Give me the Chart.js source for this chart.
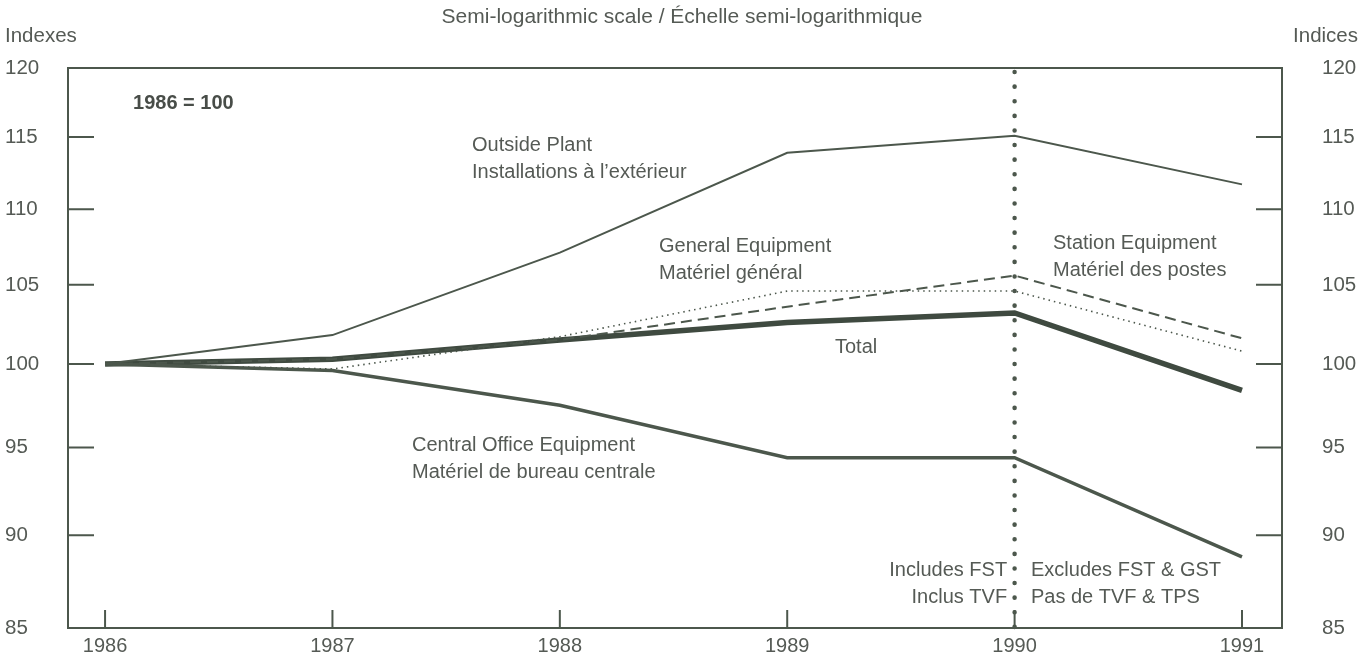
<!DOCTYPE html>
<html>
<head>
<meta charset="utf-8">
<script src="https://cdn.jsdelivr.net/npm/chart.js@4.4.0/dist/chart.umd.min.js"></script>
<style>
  html, body { margin: 0; padding: 0; background: #fff; overflow: hidden; }
  #wrap { width: 1364px; height: 665px; }
</style>
</head>
<body>
<div id="wrap"><canvas id="chart"></canvas></div>
<script>
// data (1986 = 100)
const years = [1986, 1987, 1988, 1989, 1990, 1991];
const outsidePlant = [100, 101.8, 107.1, 113.9, 115.1, 111.7];
const totalIdx = [100, 100.3, 101.5, 102.6, 103.2, 98.4];
const centralOffice = [100, 99.6, 97.5, 94.4, 94.4, 88.8];
const generalEquip = [100, 99.7, 101.7, 104.6, 104.6, 100.8];
const stationEquip = [100, 100.3, 101.5, 103.6, 105.6, 101.6];
const yTicks = [85, 90, 95, 100, 105, 110, 115, 120];

const ink = '#4c574c';
const txt = '#555a55';
const font = '"Liberation Sans", Arial, sans-serif';

const pts = arr => arr.map((v, i) => ({ x: years[i], y: v }));

// labels written inside the plot, placed by data value
const notes = [
  { x: 1986.123, y: 117.4, lines: ['1986 = 100'], bold: true },
  { x: 1987.614, y: 114.4, lines: ['Outside Plant', 'Installations à l\u2019extérieur'] },
  { x: 1988.436, y: 107.5, lines: ['General Equipment', 'Matériel général'] },
  { x: 1990.169, y: 107.7, lines: ['Station Equipment', 'Matériel des postes'] },
  { x: 1989.21, y: 101.0, lines: ['Total'] },
  { x: 1987.35, y: 95.1, lines: ['Central Office Equipment', 'Matériel de bureau centrale'] },
  { x: 1989.967, y: 88.05, lines: ['Includes FST', 'Inclus TVF'], align: 'right' },
  { x: 1990.072, y: 88.05, lines: ['Excludes FST & GST', 'Pas de TVF & TPS'] }
];

const decor = {
  id: 'decor',
  beforeDatasetsDraw(chart) {
    const { ctx, chartArea: a, scales } = chart;
    ctx.save();
    // frame
    ctx.strokeStyle = ink;
    ctx.lineWidth = 2;
    ctx.strokeRect(a.left, a.top, a.right - a.left, a.bottom - a.top);
    // inner ticks
    yTicks.forEach(v => {
      const y = scales.y.getPixelForValue(v);
      ctx.beginPath();
      ctx.moveTo(a.left, y); ctx.lineTo(a.left + 26, y);
      ctx.moveTo(a.right - 26, y); ctx.lineTo(a.right, y);
      ctx.stroke();
    });
    years.forEach(v => {
      const x = scales.x.getPixelForValue(v);
      ctx.beginPath();
      ctx.moveTo(x, a.bottom); ctx.lineTo(x, a.bottom - 18);
      ctx.stroke();
    });
    // tax break marker at 1990
    const bx = scales.x.getPixelForValue(1990);
    ctx.setLineDash([0.1, 14.5]);
    ctx.lineCap = 'round';
    ctx.lineWidth = 4.5;
    ctx.beginPath();
    ctx.moveTo(bx, a.top + 4); ctx.lineTo(bx, a.bottom);
    ctx.stroke();
    ctx.setLineDash([]);
    ctx.lineCap = 'butt';

    // texts
    ctx.fillStyle = txt;
    ctx.textBaseline = 'middle';
    ctx.font = '21px ' + font;
    ctx.textAlign = 'center';
    ctx.fillText('Semi-logarithmic scale / Échelle semi-logarithmique', 682, 17);
    ctx.font = '20.5px ' + font;
    ctx.textAlign = 'left';
    ctx.fillText('Indexes', 5, 36);
    ctx.textAlign = 'right';
    ctx.fillText('Indices', 1358, 36);

    notes.forEach(n => {
      ctx.font = (n.bold ? 'bold ' : '') + '20px ' + font;
      ctx.fillStyle = n.bold ? '#484d48' : txt;
      ctx.textAlign = n.align || 'left';
      const x = scales.x.getPixelForValue(n.x);
      const y = scales.y.getPixelForValue(n.y);
      n.lines.forEach((l, i) => ctx.fillText(l, x, y + i * 27));
    });
    ctx.restore();
  }
};

new Chart(document.getElementById('chart'), {
  type: 'line',
  data: {
    datasets: [
      { label: 'Outside Plant', data: pts(outsidePlant), borderColor: ink, borderWidth: 2 },
      { label: 'General Equipment', data: pts(generalEquip), borderColor: ink, borderWidth: 1.6, borderDash: [1.5, 4] },
      { label: 'Station Equipment', data: pts(stationEquip), borderColor: ink, borderWidth: 2, borderDash: [11, 6] },
      { label: 'Central Office Equipment', data: pts(centralOffice), borderColor: ink, borderWidth: 3.5 },
      { label: 'Total', data: pts(totalIdx), borderColor: '#3f4a40', borderWidth: 5.5 }
    ]
  },
  options: {
    responsive: true,
    maintainAspectRatio: false,
    animation: false,
    layout: { padding: { left: 5, right: 0, top: 68, bottom: 0 } },
    elements: { point: { radius: 0 }, line: { tension: 0, borderCapStyle: 'butt', borderJoinStyle: 'miter' } },
    plugins: { legend: { display: false }, tooltip: { enabled: false } },
    scales: {
      x: {
        type: 'linear',
        min: 1985.837,
        max: 1991.176,
        afterBuildTicks: s => { s.ticks = years.map(v => ({ value: v })); },
        afterFit: s => { s.height = 37; },
        grid: { display: false, drawTicks: false },
        border: { display: false },
        ticks: { color: txt, font: { family: font, size: 20 }, padding: 6, maxRotation: 0, callback: v => String(v) }
      },
      y: {
        type: 'logarithmic',
        position: 'left',
        min: 85,
        max: 120,
        afterBuildTicks: s => { s.ticks = yTicks.map(v => ({ value: v })); },
        afterFit: s => { s.width = 63; },
        grid: { display: false, drawTicks: false },
        border: { display: false },
        ticks: { color: txt, font: { family: font, size: 20.5 }, crossAlign: 'far', padding: 0, callback: v => String(v) }
      },
      y2: {
        type: 'logarithmic',
        position: 'right',
        min: 85,
        max: 120,
        afterBuildTicks: s => { s.ticks = yTicks.map(v => ({ value: v })); },
        afterFit: s => { s.width = 82; },
        grid: { display: false, drawTicks: true, tickLength: 40 },
        border: { display: false },
        ticks: { color: txt, font: { family: font, size: 20.5 }, crossAlign: 'near', padding: 0, callback: v => String(v) }
      }
    }
  },
  plugins: [decor]
});
</script>
</body>
</html>
